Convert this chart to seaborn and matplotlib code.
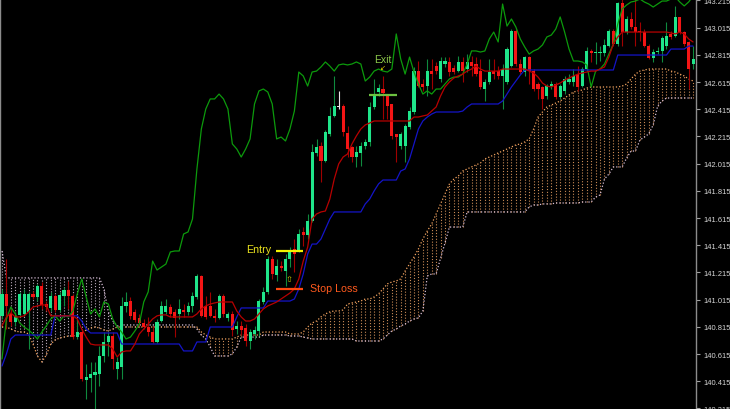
import numpy as np
import pandas as pd
import matplotlib
matplotlib.use("Agg")
import matplotlib.pyplot as plt
import seaborn as sns

# ---------------- data (prices) ----------------
opens = [140.896, 141.057, 140.910, 140.851, 140.903, 140.910, 140.925, 141.057, 141.035, 141.116,
         140.983, 140.954, 141.042, 140.939, 141.042, 141.086, 141.042, 140.740, 140.777, 140.424,
         140.439, 140.461, 140.468, 140.601, 140.704, 140.748, 140.505, 140.520, 140.969, 141.005,
         140.925, 140.881, 140.844, 140.814, 140.777, 140.704, 140.858, 140.925, 140.961, 140.925,
         140.910, 140.939, 140.925, 140.969, 141.035, 141.189, 140.969, 140.969, 140.896, 140.881,
         141.042, 140.881, 140.910, 140.799, 140.822, 140.807, 140.711, 140.763, 140.785, 140.998,
         141.072, 141.314, 141.197, 141.263, 141.226, 141.314, 141.388, 141.373, 141.513, 141.491,
         141.593, 142.094, 142.145, 142.035, 142.234, 142.366, 142.432, 142.439, 142.241, 142.138,
         142.064, 142.094, 142.145, 142.175, 142.432, 142.542, 142.564, 142.513, 142.454, 142.234,
         142.145, 142.145, 142.285, 142.395, 142.696, 142.601, 142.586, 142.696, 142.733, 142.638,
         142.748, 142.763, 142.718, 142.696, 142.763, 142.711, 142.763, 142.748, 142.696, 142.564,
         142.616, 142.696, 142.696, 142.660, 142.616, 142.733, 142.991, 142.748, 142.689, 142.799,
         142.696, 142.601, 142.579, 142.513, 142.586, 142.601, 142.505, 142.550, 142.616, 142.616,
         142.674, 142.586, 142.711, 142.844, 142.829, 142.829, 142.829, 142.880, 142.991, 142.895,
         143.197, 142.983, 143.079, 143.020, 142.991, 142.983, 142.880, 142.792, 142.836, 142.844,
         142.880, 142.969, 142.954, 143.094, 142.983, 142.910, 142.748]

highs = [141.094, 141.314, 140.947, 140.925, 141.072, 141.094, 141.072, 141.079, 141.131, 141.145,
         141.005, 141.072, 141.057, 141.072, 141.108, 141.153, 141.057, 140.873, 140.799, 140.542,
         140.557, 140.557, 140.674, 140.777, 140.777, 140.777, 140.594, 141.035, 141.072, 141.035,
         140.947, 140.910, 140.873, 140.888, 140.822, 140.873, 141.005, 141.020, 140.983, 140.947,
         141.020, 140.983, 140.998, 141.072, 141.204, 141.197, 141.042, 141.072, 140.947, 141.057,
         141.057, 140.925, 140.932, 140.858, 140.858, 140.836, 140.799, 140.822, 141.020, 141.108,
         141.336, 141.336, 141.314, 141.299, 141.351, 141.402, 141.461, 141.535, 141.549, 141.645,
         142.160, 142.197, 142.175, 142.263, 142.432, 142.660, 142.550, 142.454, 142.292, 142.145,
         142.145, 142.175, 142.197, 142.469, 142.638, 142.601, 142.660, 142.513, 142.454, 142.234,
         142.248, 142.307, 142.432, 142.726, 142.770, 142.638, 142.785, 142.785, 142.763, 142.799,
         142.799, 142.799, 142.741, 142.807, 142.799, 142.821, 142.807, 142.799, 142.785, 142.638,
         142.785, 142.785, 142.733, 142.748, 142.873, 143.005, 143.005, 142.785, 142.807, 142.807,
         142.711, 142.616, 142.586, 142.601, 142.623, 142.616, 142.601, 142.660, 142.674, 142.711,
         142.733, 142.726, 142.873, 142.858, 142.910, 142.880, 142.932, 143.005, 143.005, 143.204,
         143.226, 143.101, 143.131, 143.226, 143.057, 143.005, 142.895, 142.858, 142.873, 142.954,
         143.057, 142.991, 143.175, 143.094, 142.991, 142.917, 142.880]

lows = [140.873, 140.799, 140.822, 140.822, 140.888, 140.896, 140.652, 141.020, 141.005, 140.947,
        140.932, 140.932, 140.925, 140.925, 140.969, 140.947, 140.726, 140.726, 140.417, 140.285,
        140.336, 140.211, 140.380, 140.557, 140.601, 140.505, 140.432, 140.432, 140.925, 140.873,
        140.851, 140.822, 140.799, 140.748, 140.696, 140.696, 140.851, 140.910, 140.888, 140.740,
        140.873, 140.888, 140.903, 140.925, 141.020, 140.888, 140.873, 140.888, 140.851, 140.873,
        140.888, 140.858, 140.748, 140.763, 140.755, 140.674, 140.652, 140.726, 140.748, 140.983,
        141.057, 141.167, 141.153, 141.226, 141.116, 141.255, 141.219, 141.366, 141.410, 141.461,
        141.586, 142.072, 141.880, 142.028, 142.219, 142.358, 142.417, 142.219, 142.064, 142.028,
        141.991, 141.998, 142.123, 142.145, 142.417, 142.513, 142.344, 142.344, 142.197, 142.028,
        142.123, 142.028, 142.270, 142.380, 142.579, 142.550, 142.513, 142.564, 142.674, 142.616,
        142.726, 142.660, 142.674, 142.689, 142.616, 142.689, 142.660, 142.660, 142.564, 142.476,
        142.601, 142.638, 142.638, 142.417, 142.601, 142.726, 142.733, 142.674, 142.660, 142.601,
        142.550, 142.491, 142.417, 142.491, 142.564, 142.491, 142.491, 142.527, 142.601, 142.586,
        142.550, 142.579, 142.696, 142.763, 142.748, 142.770, 142.807, 142.873, 142.880, 142.880,
        142.880, 142.969, 143.005, 142.880, 142.917, 142.873, 142.785, 142.763, 142.821, 142.763,
        142.858, 142.932, 142.947, 142.969, 142.880, 142.564, 142.711]

closes = [141.057, 140.969, 140.851, 140.896, 141.057, 141.057, 141.057, 141.035, 141.116, 140.976,
          140.961, 141.042, 140.939, 141.050, 141.086, 141.042, 140.740, 140.777, 140.432, 140.446,
          140.468, 140.483, 140.601, 140.704, 140.748, 140.579, 140.557, 140.969, 140.998, 140.896,
          140.866, 140.844, 140.814, 140.777, 140.704, 140.851, 140.969, 140.969, 140.910, 140.881,
          140.947, 140.925, 140.969, 141.042, 141.189, 140.896, 140.888, 140.896, 140.881, 141.042,
          140.910, 140.910, 140.792, 140.822, 140.792, 140.711, 140.777, 140.792, 141.005, 141.072,
          141.314, 141.204, 141.263, 141.248, 141.314, 141.373, 141.351, 141.498, 141.491, 141.593,
          142.101, 142.138, 142.035, 142.248, 142.366, 142.439, 142.432, 142.248, 142.123, 142.064,
          142.101, 142.145, 142.175, 142.432, 142.527, 142.571, 142.535, 142.439, 142.219, 142.211,
          142.234, 142.292, 142.402, 142.696, 142.586, 142.579, 142.696, 142.674, 142.696, 142.770,
          142.770, 142.689, 142.689, 142.763, 142.696, 142.763, 142.733, 142.674, 142.579, 142.616,
          142.689, 142.674, 142.660, 142.711, 142.858, 142.991, 142.748, 142.689, 142.799, 142.696,
          142.564, 142.564, 142.491, 142.586, 142.601, 142.505, 142.586, 142.638, 142.638, 142.660,
          142.579, 142.711, 142.844, 142.829, 142.836, 142.836, 142.888, 142.991, 142.895, 143.197,
          142.983, 143.079, 143.020, 142.983, 142.983, 142.880, 142.792, 142.836, 142.844, 142.939,
          142.954, 142.947, 143.094, 142.983, 142.895, 142.711, 142.785]

tenkan = [140.822, 140.888, 140.917, 140.888, 140.888, 140.896, 140.925, 140.961, 140.969, 140.976,
          140.976, 140.896, 140.896, 140.896, 140.896, 140.896, 140.896, 140.873, 140.799, 140.740,
          140.689, 140.682, 140.682, 140.682, 140.682, 140.652, 140.594, 140.630, 140.638, 140.638,
          140.689, 140.763, 140.799, 140.836, 140.873, 140.896, 140.903, 140.903, 140.888, 140.888,
          140.888, 140.888, 140.888, 140.888, 140.910, 140.947, 140.969, 140.983, 140.991, 140.998,
          140.998, 140.998, 140.998, 140.932, 140.888, 140.858, 140.858, 140.873, 140.910, 140.947,
          140.969, 140.983, 140.998, 141.020, 141.042, 141.064, 141.094, 141.167, 141.299, 141.402,
          141.608, 141.645, 141.660, 141.667, 141.755, 141.902, 142.013, 142.064, 142.086, 142.160,
          142.219, 142.270, 142.300, 142.314, 142.329, 142.329, 142.329, 142.329, 142.329, 142.329,
          142.329, 142.329, 142.329, 142.358, 142.358, 142.366, 142.373, 142.402, 142.432, 142.513,
          142.579, 142.616, 142.645, 142.660, 142.674, 142.696, 142.711, 142.733, 142.711, 142.696,
          142.696, 142.696, 142.696, 142.711, 142.711, 142.711, 142.711, 142.711, 142.711, 142.696,
          142.682, 142.652, 142.608, 142.586, 142.579, 142.594, 142.608, 142.630, 142.645, 142.660,
          142.674, 142.682, 142.689, 142.696, 142.696, 142.711, 142.726, 142.799, 142.895, 142.947,
          142.983, 142.983, 142.983, 142.983, 142.983, 142.983, 142.983, 142.983, 142.983, 142.983,
          142.983, 142.976, 142.969, 142.983, 142.969, 142.932, 142.910]

kijun = [140.527, 140.616, 140.726, 140.755, 140.755, 140.755, 140.755, 140.755, 140.755, 140.755,
         140.755, 140.755, 140.896, 140.896, 140.896, 140.896, 140.896, 140.896, 140.858, 140.799,
         140.770, 140.770, 140.770, 140.770, 140.770, 140.770, 140.770, 140.689, 140.689, 140.689,
         140.689, 140.689, 140.689, 140.689, 140.689, 140.689, 140.689, 140.689, 140.689, 140.689,
         140.689, 140.638, 140.638, 140.638, 140.704, 140.704, 140.704, 140.814, 140.814, 140.814,
         140.814, 140.814, 140.814, 140.888, 140.954, 140.954, 140.954, 140.954, 140.954, 140.954,
         141.005, 141.005, 141.005, 141.005, 141.005, 141.005, 141.020, 141.094, 141.204, 141.351,
         141.424, 141.424, 141.461, 141.535, 141.608, 141.660, 141.660, 141.660, 141.660, 141.660,
         141.660, 141.660, 141.719, 141.755, 141.814, 141.866, 141.895, 141.895, 141.895, 141.895,
         141.961, 141.976, 142.050, 142.160, 142.270, 142.329, 142.358, 142.380, 142.395, 142.395,
         142.395, 142.395, 142.395, 142.395, 142.402, 142.432, 142.454, 142.454, 142.454, 142.454,
         142.454, 142.454, 142.454, 142.476, 142.527, 142.579, 142.623, 142.667, 142.704, 142.704,
         142.704, 142.704, 142.704, 142.704, 142.704, 142.704, 142.704, 142.704, 142.704, 142.704,
         142.704, 142.704, 142.704, 142.704, 142.704, 142.704, 142.704, 142.704, 142.704, 142.814,
         142.814, 142.814, 142.814, 142.814, 142.814, 142.814, 142.814, 142.814, 142.814, 142.814,
         142.814, 142.858, 142.858, 142.858, 142.858, 142.880, 142.880]

chikou = [140.579, 140.873, 140.961, 140.910, 140.844, 140.814, 140.792, 140.763, 140.726, 140.777,
          140.822, 140.873, 140.896, 140.858, 140.896, 140.888, 140.932, 141.057, 141.167, 141.035,
          140.910, 140.947, 140.888, 140.998, 140.983, 140.873, 140.814, 140.777, 140.726, 140.740,
          140.785, 140.836, 140.998, 141.072, 141.299, 141.233, 141.255, 141.277, 141.366, 141.373,
          141.373, 141.498, 141.513, 141.608, 141.976, 142.270, 142.417, 142.491, 142.491, 142.527,
          142.491, 142.417, 142.160, 142.123, 142.064, 142.123, 142.197, 142.454, 142.550, 142.564,
          142.542, 142.454, 142.197, 142.211, 142.182, 142.270, 142.402, 142.689, 142.660, 142.586,
          142.689, 142.696, 142.726, 142.763, 142.733, 142.696, 142.741, 142.748, 142.741, 142.748,
          142.763, 142.748, 142.623, 142.652, 142.696, 142.711, 142.696, 142.689, 142.711, 142.969,
          142.785, 142.674, 142.799, 142.689, 142.601, 142.527, 142.550, 142.527, 142.564, 142.564,
          142.601, 142.638, 142.652, 142.652, 142.674, 142.748, 142.844, 142.844, 142.836, 142.844,
          142.932, 142.983, 142.910, 143.189, 143.027, 143.079, 143.020, 142.932, 142.873, 142.821,
          142.844, 142.858, 142.888, 142.947, 142.961, 143.005, 143.094, 142.983, 142.858, 142.770,
          142.770, 142.763, 142.741, 142.579, 142.696, 142.711, 142.748, 142.821, 142.895, 143.042,
          143.153, 143.182, 143.204, 143.211, 143.226, 143.204, 143.189, 143.167, 143.189, 143.211,
          143.211, 143.226, 143.241, 143.204, 143.175, 143.204, 143.248]

span_a = [140.814, 140.814, 140.799, 140.785, 140.777, 140.777, 140.763, 140.689, 140.601, 140.557,
          140.608, 140.689, 140.719, 140.733, 140.740, 140.748, 140.748, 140.755, 140.770, 140.792,
          140.807, 140.814, 140.807, 140.792, 140.785, 140.799, 140.814, 140.814, 140.814, 140.814,
          140.814, 140.814, 140.814, 140.814, 140.814, 140.814, 140.814, 140.814, 140.814, 140.814,
          140.814, 140.814, 140.814, 140.814, 140.814, 140.777, 140.755, 140.740, 140.726, 140.726,
          140.726, 140.726, 140.726, 140.740, 140.755, 140.755, 140.755, 140.755, 140.755, 140.777,
          140.777, 140.777, 140.777, 140.777, 140.777, 140.763, 140.763, 140.763, 140.777, 140.814,
          140.844, 140.858, 140.888, 140.910, 140.925, 140.932, 140.932, 140.939, 140.983, 140.991,
          140.998, 141.005, 141.020, 141.020, 141.035, 141.057, 141.094, 141.131, 141.145, 141.153,
          141.167, 141.226, 141.277, 141.329, 141.388, 141.461, 141.520, 141.572, 141.645, 141.719,
          141.792, 141.866, 141.902, 141.924, 141.961, 141.976, 141.991, 142.006, 142.020, 142.050,
          142.064, 142.079, 142.094, 142.108, 142.123, 142.138, 142.153, 142.160, 142.175, 142.197,
          142.270, 142.358, 142.395, 142.432, 142.446, 142.461, 142.476, 142.498, 142.520, 142.542,
          142.550, 142.557, 142.571, 142.579, 142.579, 142.579, 142.579, 142.579, 142.579, 142.579,
          142.586, 142.601, 142.638, 142.674, 142.696, 142.704, 142.711, 142.711, 142.711, 142.711,
          142.711, 142.696, 142.689, 142.674, 142.660, 142.638, 142.623]

span_b = [141.373, 141.175, 141.175, 141.175, 141.175, 141.175, 141.175, 141.175, 141.175, 141.175,
          141.175, 141.175, 141.175, 141.175, 141.175, 141.175, 141.175, 141.175, 141.175, 141.175,
          141.175, 141.175, 141.175, 141.094, 140.925, 140.858, 140.822, 140.829, 140.829, 140.829,
          140.829, 140.829, 140.829, 140.829, 140.829, 140.829, 140.829, 140.829, 140.829, 140.829,
          140.829, 140.829, 140.829, 140.829, 140.799, 140.755, 140.726, 140.667, 140.601, 140.601,
          140.601, 140.601, 140.616, 140.667, 140.740, 140.740, 140.740, 140.740, 140.740, 140.755,
          140.755, 140.755, 140.755, 140.755, 140.755, 140.748, 140.748, 140.748, 140.740, 140.733,
          140.726, 140.726, 140.726, 140.726, 140.726, 140.726, 140.726, 140.726, 140.726, 140.726,
          140.711, 140.711, 140.711, 140.711, 140.711, 140.711, 140.726, 140.755, 140.785, 140.799,
          140.822, 140.836, 140.858, 140.873, 140.881, 140.932, 141.189, 141.204, 141.204, 141.321,
          141.432, 141.549, 141.549, 141.549, 141.549, 141.660, 141.660, 141.660, 141.660, 141.660,
          141.660, 141.660, 141.660, 141.660, 141.660, 141.660, 141.660, 141.660, 141.660, 141.697,
          141.711, 141.711, 141.719, 141.719, 141.719, 141.726, 141.726, 141.726, 141.726, 141.726,
          141.726, 141.733, 141.733, 141.733, 141.770, 141.785, 141.902, 141.939, 141.991, 141.991,
          141.991, 142.057, 142.108, 142.108, 142.189, 142.211, 142.234, 142.300, 142.439, 142.476,
          142.498, 142.498, 142.498, 142.498, 142.498, 142.498, 142.498]

tick_values = [140.215, 140.415, 140.615, 140.815, 141.015, 141.215, 141.415, 141.615,
               141.815, 142.015, 142.215, 142.415, 142.615, 142.815, 143.015, 143.215]
tick_labels = ["140.215", "140.415", "140.615", "140.815", "141.015", "141.215", "141.415", "141.615",
               "141.815", "142.015", "142.215", "142.415", "142.615", "142.815", "143.015", "143.215"]

entry_price = 141.373
stop_price = 141.094
exit_price = 142.520
trade_bars = [61.85, 67.95]   # entry / stop marker span (bar index)
exit_bars = [82.8, 89.2]

n = len(opens)
for arr in (highs, lows, closes, tenkan, kijun, chikou, span_a, span_b):
    assert len(arr) == n, len(arr)

# ---------------- style ----------------
sns.set_theme(style="dark", rc={"axes.facecolor": "black", "figure.facecolor": "black",
                                "savefig.facecolor": "black"})
plt.rcParams["font.family"] = ["Liberation Sans", "DejaVu Sans"]

fig = plt.figure(figsize=(7.3, 4.1), dpi=100)
ax = fig.add_axes([0, 0, 696 / 730, 1])
ax.set_facecolor("black")

x = np.arange(n)
o = np.array(opens); c = np.array(closes); h = np.array(highs); l = np.array(lows)
a = np.array(span_a); b = np.array(span_b)

# ---------------- cloud (dotted hatch) ----------------
dot = (0, (1, 1.6))
up = a >= b
ax.vlines(x[up], b[up], a[up], colors="#C88A55", linestyles=[dot], lw=0.8, zorder=1)
ax.vlines(x[~up], a[~up], b[~up], colors="#B8A8B8", linestyles=[dot], lw=0.8, zorder=1)
ax.plot(x, a, color="#F4A460", ls=dot, lw=0.9, zorder=1)
ax.plot(x, b, color="#D8BFD8", ls=dot, lw=0.9, zorder=1)

# ---------------- candles ----------------
bull = c > o
doji = c == o
body_col = np.where(doji, "#E8E8E8", np.where(bull, "#1FE58A", "#F41515"))
wick_col = np.where(doji, "#E8E8E8", np.where(bull, "#0F8A3E", "#A00000"))
bottoms = np.minimum(o, c)
heights = np.maximum(np.abs(c - o), 0.0075)
ax.vlines(x, l, h, colors=wick_col, lw=0.8, zorder=2)
ax.bar(x, heights, bottom=bottoms, width=0.7, color=body_col, linewidth=0, zorder=3)

# ---------------- ichimoku lines ----------------
df = pd.DataFrame({"bar": x, "tenkan": tenkan, "kijun": kijun, "chikou": chikou})
sns.lineplot(data=df, x="bar", y="chikou", color="#0C9A0C", lw=0.9, ax=ax, zorder=4)
sns.lineplot(data=df, x="bar", y="kijun", color="#1414C8", lw=0.9, ax=ax, zorder=4)
sns.lineplot(data=df, x="bar", y="tenkan", color="#B80000", lw=0.9, ax=ax, zorder=4)

# ---------------- trade annotations ----------------
ax.hlines(entry_price, trade_bars[0], trade_bars[1], color="#F2F200", lw=1.6, zorder=5)
ax.hlines(stop_price, trade_bars[0], trade_bars[1], color="#FF4A10", lw=1.6, zorder=5)
ax.hlines(exit_price, exit_bars[0], exit_bars[1], color="#6CC040", lw=1.6, zorder=5)
ax.text(55.1, entry_price + 0.012, "Entry", color="#EAE21E", fontsize=7.7, ha="left", va="center", zorder=6)
ax.text(69.5, stop_price + 0.006, "Stop Loss", color="#FF5A1E", fontsize=7.7, ha="left", va="center", zorder=6)
ax.text(84.0, 142.785, "Exit", color="#8CC84B", fontsize=7.5, ha="left", va="center", zorder=6)
ax.text(64.8, 141.167, "\u21e7", color="#C8C800", fontsize=6, ha="center", va="center",
        family=["DejaVu Sans"], zorder=6)
ax.text(86.1, 142.726, "\u2199", color="#E0D000", fontsize=5, ha="center", va="center",
        family=["DejaVu Sans"], zorder=6)

# ---------------- axes ----------------
ax.set_xlim(-0.45, 156.66)
ax.set_ylim(140.211, 143.226)
ax.set_xticks([])
ax.set_xlabel("")
ax.set_ylabel("")
ax.yaxis.tick_right()
ax.set_yticks(tick_values)
ax.set_yticklabels(tick_labels)
ax.tick_params(axis="y", direction="out", length=3, width=0.8, color="#A0A0A0",
               labelcolor="#D8D8D8", labelsize=5.4, pad=2)
for side in ("top", "bottom"):
    ax.spines[side].set_visible(False)
for side in ("left", "right"):
    ax.spines[side].set_visible(True)
    ax.spines[side].set_color("#8C8C8C")
    ax.spines[side].set_linewidth(1.0)
ax.grid(False)

fig.savefig("out.png", dpi=100, facecolor="black")
